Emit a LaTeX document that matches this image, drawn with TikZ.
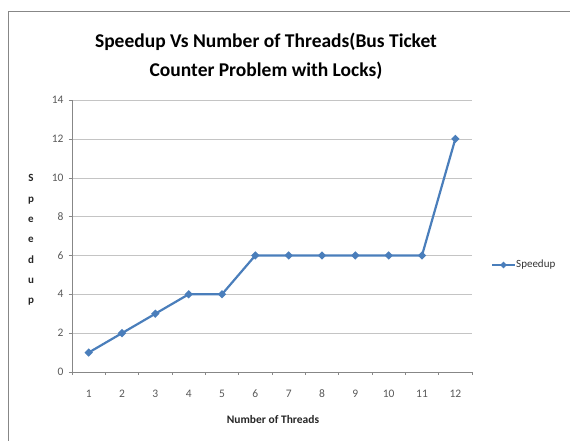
\documentclass[tikz,border=0pt]{standalone}
\usepackage{fontspec}
\setmainfont{Carlito}
\usetikzlibrary{shapes.geometric}
\definecolor{serblue}{HTML}{4A7EBB}
\definecolor{gridgray}{HTML}{C4C4C4}
\definecolor{axgray}{HTML}{878787}
\definecolor{txtgray}{HTML}{595959}
\tikzset{
  lbl/.style={font=\fontsize{11.5}{13}\selectfont, text=txtgray, inner sep=1pt},
  ttl/.style={font=\bfseries\fontsize{11.5}{13}\selectfont, text=black!85},
  serline/.style={serblue, line width=2.2pt, line join=round},
  mk/.style={diamond, fill=serblue, inner sep=0pt, minimum size=8.5pt}
}
\newcommand{\gline}[1]{\draw[gridgray] (0,#1)--(12,#1); \draw[axgray] (-0.1,#1)--(0,#1);
  \node[lbl, anchor=east] (y#1) at (-0.22,#1) {#1};}
\newcommand{\xtick}[1]{\draw[axgray] (#1,0)--(#1,-0.16);}
\newcommand{\xlbl}[1]{\node[lbl] (x#1) at (#1-0.5,-1.1) {#1};}
\begin{document}
\begin{tikzpicture}[x=1pt, y=-1pt]
\useasboundingbox (0,0) rectangle (570,441);

% outer frame
\draw[axgray, line width=1pt] (8,441) -- (8,12) -- (570,12);

% title
\node[font=\bfseries\fontsize{19.5}{29}\selectfont, align=center] (title) at (266,56)
  {Speedup Vs Number of Threads(Bus Ticket\\Counter Problem with Locks)};

% plot area
\begin{scope}[shift={(72,372)}, x=33.333pt, y=19.43pt]
\gline{2}
\gline{4}
\gline{6}
\gline{8}
\gline{10}
\gline{12}
\gline{14}
\node[lbl, anchor=east] (y0) at (-0.22,0) {0};
\draw[axgray] (-0.1,0) -- (12,0);
\draw[axgray] (0,0) -- (0,14);

\xtick{0} \xtick{1} \xtick{2} \xtick{3} \xtick{4} \xtick{5} \xtick{6}
\xtick{7} \xtick{8} \xtick{9} \xtick{10} \xtick{11} \xtick{12}
\xlbl{1} \xlbl{2} \xlbl{3} \xlbl{4} \xlbl{5} \xlbl{6}
\xlbl{7} \xlbl{8} \xlbl{9} \xlbl{10} \xlbl{11} \xlbl{12}

% data
\coordinate (c1) at (0.5,1);
\coordinate (c2) at (1.5,2);
\coordinate (c3) at (2.5,3);
\coordinate (c4) at (3.5,4);
\coordinate (c5) at (4.5,4);
\coordinate (c6) at (5.5,6);
\coordinate (c7) at (6.5,6);
\coordinate (c8) at (7.5,6);
\coordinate (c9) at (8.5,6);
\coordinate (c10) at (9.5,6);
\coordinate (c11) at (10.5,6);
\coordinate (c12) at (11.5,12);
\draw[serline] (c1) -- (c2) -- (c3) -- (c4) -- (c5) -- (c6) -- (c7) -- (c8)
  -- (c9) -- (c10) -- (c11) -- (c12);
\node[mk] (p1) at (c1) {};
\node[mk] (p2) at (c2) {};
\node[mk] (p3) at (c3) {};
\node[mk] (p4) at (c4) {};
\node[mk] (p5) at (c5) {};
\node[mk] (p6) at (c6) {};
\node[mk] (p7) at (c7) {};
\node[mk] (p8) at (c8) {};
\node[mk] (p9) at (c9) {};
\node[mk] (p10) at (c10) {};
\node[mk] (p11) at (c11) {};
\node[mk] (p12) at (c12) {};
\end{scope}

% axis titles
\node[ttl] (xtitle) at (273,420) {Number of Threads};
\node[ttl, align=center, font=\bfseries\fontsize{11}{20.3}\selectfont] (ytitle) at (31,240)
  {S\\p\\e\\e\\d\\u\\p};

% legend
\coordinate (la) at (492,265);
\coordinate (lb) at (515,265);
\draw[serline] (la) -- (lb);
\node[mk, minimum size=7pt] (lmk) at (503.5,265) {};
\node[lbl, text=black!80, font=\fontsize{11}{13}\selectfont, anchor=west] (ltxt) at (515,265) {Speedup};
\end{tikzpicture}
\end{document}
